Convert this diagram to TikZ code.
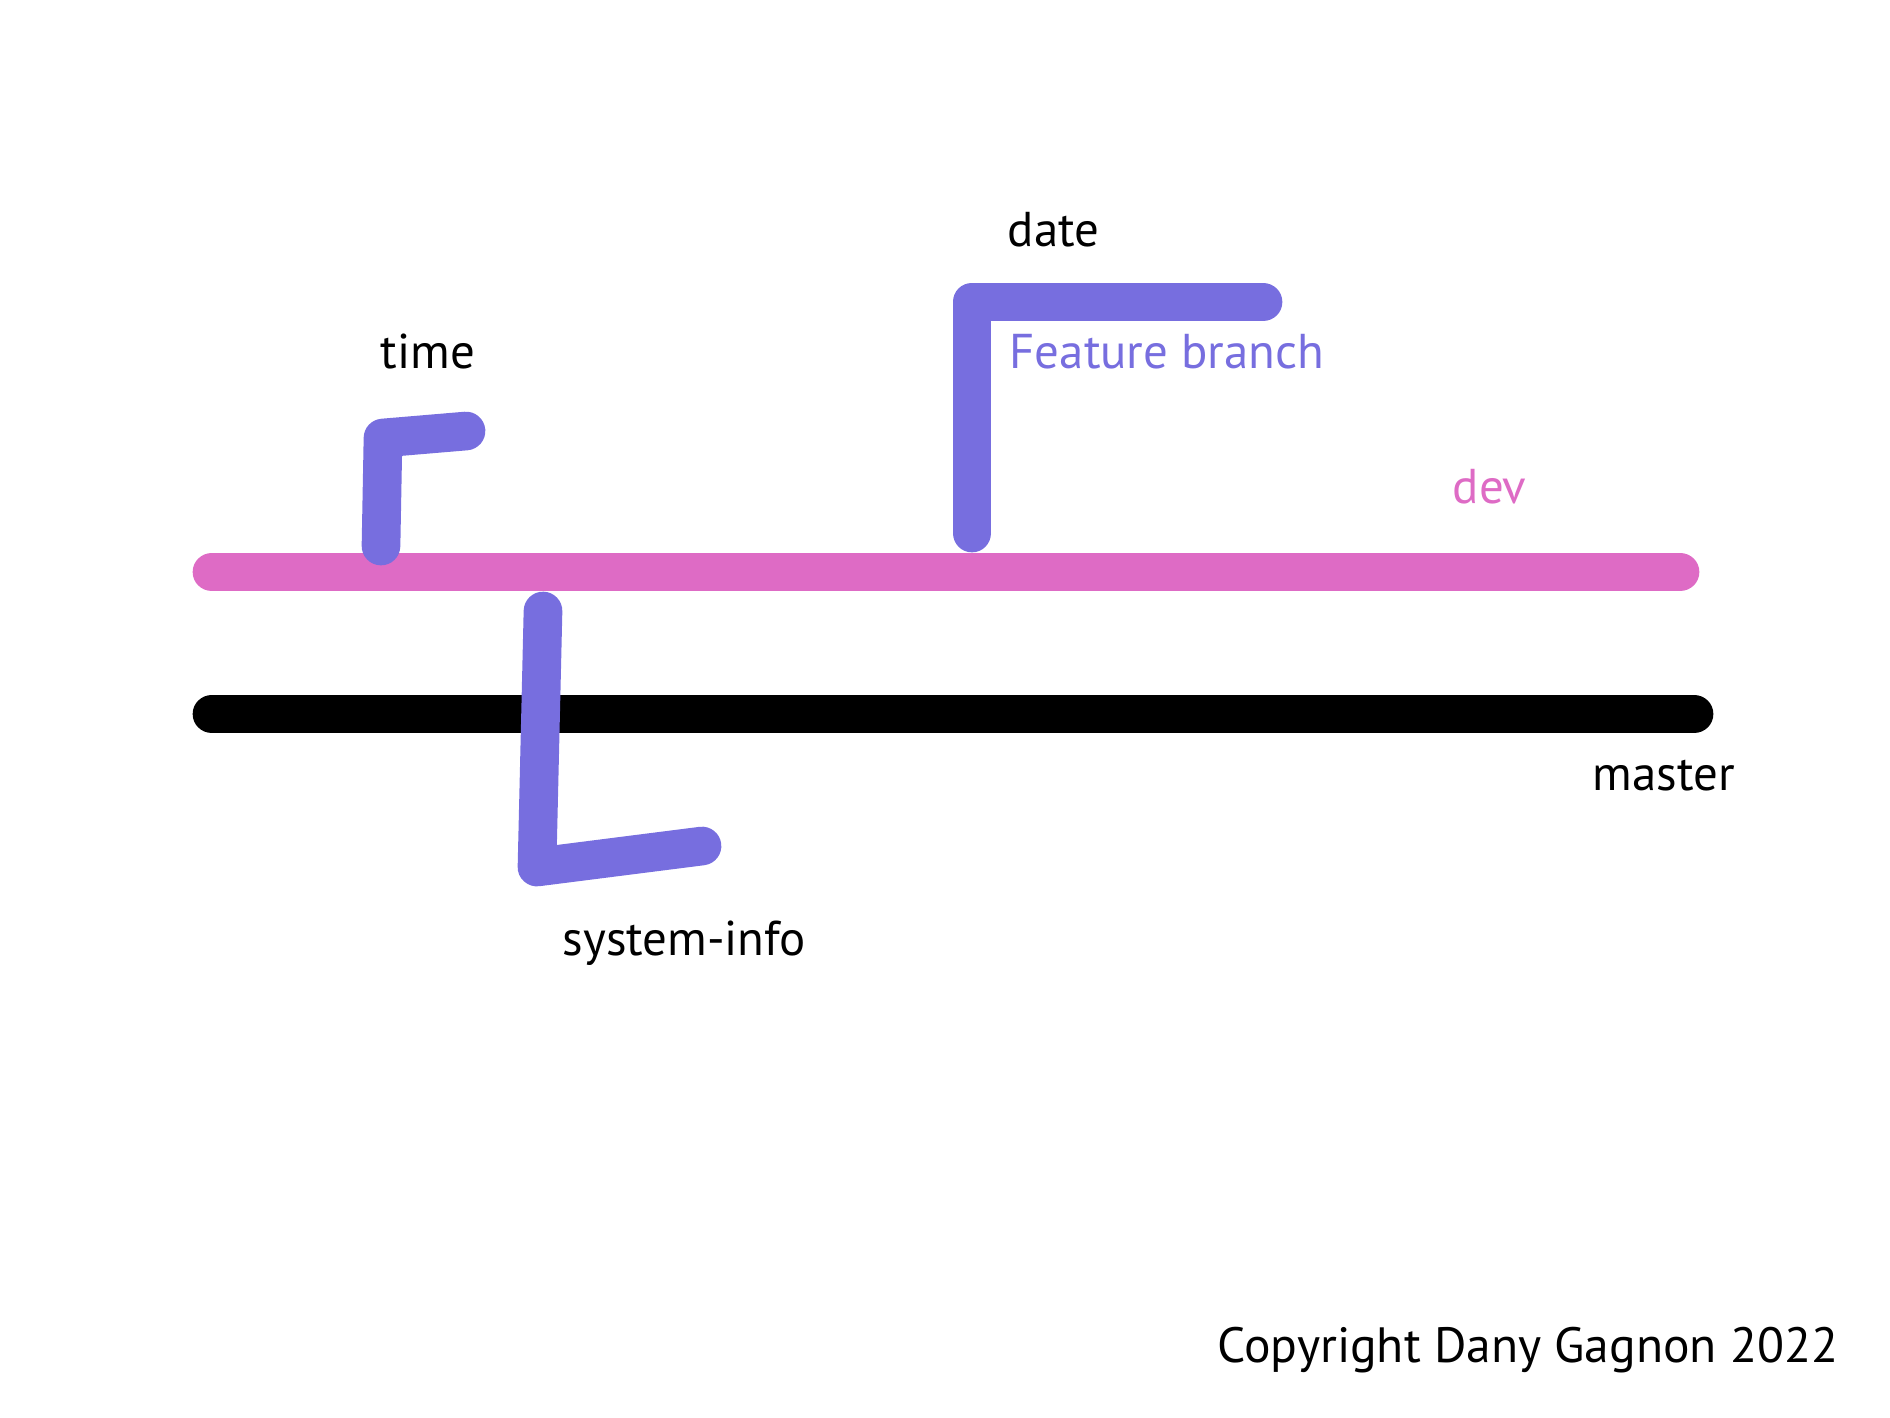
\documentclass[tikz,border=0pt]{standalone}
\usepackage{fontspec}
\setmainfont{PT Sans}
\usetikzlibrary{positioning}
\definecolor{branchpurple}{RGB}{119,110,223}
\definecolor{devpink}{RGB}{222,107,197}

\begin{document}
\begin{tikzpicture}[x=0.01cm,y=-0.01cm,
  lane/.style={line width=11pt,line cap=round,line join=round},
  lbl/.style={anchor=base west,inner sep=0pt,font=\fontsize{13.9}{16}\selectfont}]
  \useasboundingbox (0,0) rectangle (1890,1417); % 画像全体の範囲
  \coordinate (devL) at (212,572); % devの左端
  \coordinate (devR) at (1680,572); % devの右端
  \coordinate (masterL) at (212,714); % masterの左端
  \coordinate (masterR) at (1694,714); % masterの右端
  \coordinate (timeA) at (381,546); % timeの根元
  \coordinate (timeB) at (383,438); % timeの角
  \coordinate (timeC) at (466,431); % timeの先端
  \coordinate (dateA) at (972,533); % dateの根元
  \coordinate (dateB) at (972,302); % dateの角
  \coordinate (dateC) at (1263,302); % dateの先端
  \coordinate (sysA) at (543,611); % system-infoの根元
  \coordinate (sysB) at (537,867); % system-infoの角
  \coordinate (sysC) at (702,846); % system-infoの先端
  \draw[lane,devpink] (devL) -- (devR); % devブランチ
  \draw[lane,black] (masterL) -- (masterR); % masterブランチ
  \draw[lane,branchpurple] (timeA) -- (timeB) -- (timeC); % timeブランチ
  \draw[lane,branchpurple] (dateA) -- (dateB) -- (dateC); % dateブランチ
  \draw[lane,branchpurple] (sysA) -- (sysB) -- (sysC); % system-infoブランチ
  \node[lbl] (timeLbl) at (380,368) {time}; % timeの名前
  \node[lbl] (dateLbl) at (1007,246) {date}; % dateの名前
  \node[lbl,text=branchpurple] (featLbl) at (1009,368) {Feature branch}; % 説明
  \node[lbl,text=devpink] (devLbl) at (1452,503) {dev}; % devの名前
  \node[lbl] (masterLbl) at (1592,790) {master}; % masterの名前
  \node[lbl] (sysLbl) at (562,955) {system-info}; % system-infoの名前
  \node[lbl,font=\fontsize{14.1}{17}\selectfont] (copyLbl) at (1217,1362) {Copyright Dany Gagnon 2022}; % 著作権表示
\end{tikzpicture}
\end{document}
